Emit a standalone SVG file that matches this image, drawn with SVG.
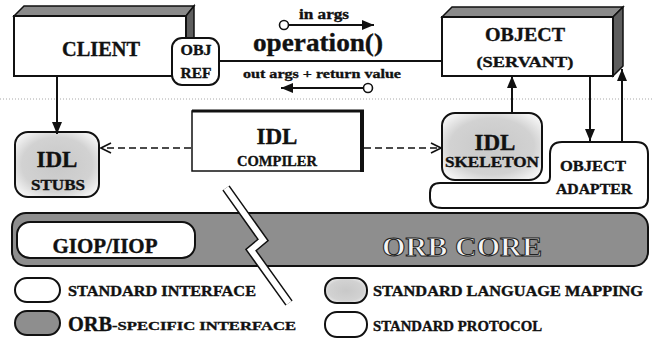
<svg xmlns="http://www.w3.org/2000/svg" width="652" height="339" viewBox="0 0 652 339">
<style>
.t{font-family:"Liberation Serif","DejaVu Serif",serif;font-weight:bold;fill:#111;stroke:#111;stroke-width:0.35;text-anchor:middle}
.s{text-anchor:start}
.ln{stroke:#111;stroke-width:2;fill:none}
.box{fill:#fff;stroke:#111;stroke-width:2}
.stip{fill:url(#sg);stroke:#111;stroke-width:2}
.dark{fill:#8e8e8e;stroke:#111;stroke-width:2}
.bevT{fill:#8a8a8a;stroke:#111;stroke-width:1.5}
.bevR{fill:#5e5e5e;stroke:#111;stroke-width:1.5}
.dash{stroke:#111;stroke-width:1.6;fill:none;stroke-dasharray:7 4}
</style>
<defs>
<marker id="tri" viewBox="0 0 12 10" refX="12" refY="5" markerWidth="12" markerHeight="10" markerUnits="userSpaceOnUse" orient="auto">
<path d="M0,0 L12,5 L0,10 Z" fill="#111"/>
</marker>
<marker id="open" viewBox="0 0 12 12" refX="11" refY="6" markerWidth="12" markerHeight="12" markerUnits="userSpaceOnUse" orient="auto">
<path d="M1,1 L11,6 L1,11" fill="none" stroke="#111" stroke-width="1.6"/>
</marker>
<radialGradient id="sg" cx="50%" cy="50%" r="60%">
<stop offset="0" stop-color="#c8c8c8"/>
<stop offset="0.7" stop-color="#d2d2d2"/>
<stop offset="1" stop-color="#f2f2f2"/>
</radialGradient>
</defs>
<rect width="652" height="339" fill="#fff"/>

<!-- dotted separator -->
<line x1="0" y1="99" x2="652" y2="99" stroke="#a8a8a8" stroke-width="1" stroke-dasharray="1 2"/>

<!-- ORB core band -->
<g id="orb-core">
<rect x="12" y="213" width="636" height="53" rx="14" class="dark"/>
<text x="462" y="256" class="t" font-size="28" textLength="160" lengthAdjust="spacingAndGlyphs" style="fill:#f4f4f4;stroke:#222;stroke-width:1">ORB CORE</text>
</g>
<g id="giop">
<rect x="17" y="222" width="178" height="36" rx="13" class="box"/>
<text x="105" y="253" class="t" font-size="21" textLength="105" lengthAdjust="spacingAndGlyphs">GIOP/IIOP</text>
</g>

<!-- break -->
<g id="break">
<polyline points="226,188 263,240 251,250 289,303" fill="none" stroke="#111" stroke-width="9"/>
<polyline points="226,188 263,240 251,250 289,303" fill="none" stroke="#fff" stroke-width="6"/>
</g>

<!-- Client -->
<g id="client">
<polygon points="14,16 24,6 194,6 186,16" class="bevT"/>
<polygon points="186,16 194,6 194,66 186,76" class="bevR"/>
<rect x="14" y="16" width="172" height="60" class="box" stroke-width="1.5"/>
<text x="101" y="56" class="t" font-size="20" textLength="78" lengthAdjust="spacingAndGlyphs">CLIENT</text>
</g>
<g id="objref">
<rect x="172" y="38" width="47" height="47" rx="10" class="box"/>
<text x="196" y="55" class="t" font-size="14" textLength="31" lengthAdjust="spacingAndGlyphs">OBJ</text>
<text x="196" y="78" class="t" font-size="14" textLength="31" lengthAdjust="spacingAndGlyphs">REF</text>
</g>

<!-- Object -->
<g id="object">
<polygon points="442,17 452,7 623,7 613,17" class="bevT"/>
<polygon points="613,17 623,7 623,66 613,76" class="bevR"/>
<rect x="442" y="17" width="171" height="59" class="box" stroke-width="1.5"/>
<text x="525" y="41" class="t" font-size="19" textLength="80" lengthAdjust="spacingAndGlyphs">OBJECT</text>
<text x="525" y="67" class="t" font-size="15.5" textLength="97" lengthAdjust="spacingAndGlyphs">(SERVANT)</text>
</g>

<!-- operation labels -->
<g id="operation">
<text x="324" y="19" class="t" font-size="14" textLength="50" lengthAdjust="spacingAndGlyphs">in  args</text>
<text x="318" y="51" class="t" font-size="26" textLength="130" lengthAdjust="spacingAndGlyphs">operation()</text>
<text x="322" y="78" class="t" font-size="13.5" textLength="158" lengthAdjust="spacingAndGlyphs">out  args + return  value</text>
</g>

<!-- IDL stubs -->
<g id="idl-stubs">
<rect x="15" y="132" width="84" height="65" rx="13" class="stip"/>
<text x="57" y="167" class="t" font-size="23">IDL</text>
<text x="58" y="190" class="t" font-size="15" textLength="54" lengthAdjust="spacingAndGlyphs">STUBS</text>
</g>

<!-- IDL compiler -->
<g id="idl-compiler">
<rect x="192" y="111" width="170" height="60" fill="#fff" stroke="#111" stroke-width="1.5"/>
<line x1="192" y1="111" x2="364" y2="111" stroke="#111" stroke-width="3"/>
<line x1="362" y1="110" x2="362" y2="172" stroke="#111" stroke-width="4"/>
<text x="277" y="144" class="t" font-size="23">IDL</text>
<text x="277" y="166" class="t" font-size="15.5" textLength="80" lengthAdjust="spacingAndGlyphs">COMPILER</text>
</g>

<!-- IDL skeleton -->
<g id="idl-skeleton">
<rect x="442" y="113" width="100" height="67" rx="13" class="stip"/>
<text x="495" y="150" class="t" font-size="23">IDL</text>
<text x="492" y="167" class="t" font-size="15" textLength="94" lengthAdjust="spacingAndGlyphs">SKELETON</text>
</g>

<!-- Object adapter -->
<g id="object-adapter">
<path d="M562,142 H636 Q648,142 648,154 V198 Q648,208 638,208 H442 Q430,208 430,198 V193 Q430,183 440,183 H544 Q550,183 550,177 V154 Q550,142 562,142 Z" class="box"/>
<text x="593" y="171" class="t" font-size="15" textLength="66" lengthAdjust="spacingAndGlyphs">OBJECT</text>
<text x="594" y="194" class="t" font-size="15" textLength="76" lengthAdjust="spacingAndGlyphs">ADAPTER</text>
</g>

<!-- connectors -->
<g id="connectors">
<line x1="219" y1="61" x2="442" y2="61" class="ln" stroke-width="1.6"/>
<line x1="288" y1="25" x2="374" y2="25" class="ln" stroke-width="1.6" marker-end="url(#tri)"/>
<circle cx="284" cy="25" r="4.5" fill="#fff" stroke="#111" stroke-width="1.6"/>
<line x1="364" y1="88" x2="281" y2="88" class="ln" stroke-width="1.6" marker-end="url(#tri)"/>
<circle cx="368" cy="88" r="4.5" fill="#fff" stroke="#111" stroke-width="1.6"/>
<line x1="57" y1="76" x2="57" y2="134" class="ln" marker-end="url(#tri)"/>
<line x1="512" y1="113" x2="512" y2="76" class="ln" marker-end="url(#tri)"/>
<line x1="590" y1="76" x2="590" y2="141" class="ln" marker-end="url(#tri)"/>
<line x1="622" y1="142" x2="622" y2="69" class="ln" marker-end="url(#tri)"/>
<line x1="191" y1="148" x2="101" y2="148" class="dash" marker-end="url(#open)"/>
<line x1="364" y1="148" x2="441" y2="148" class="dash" marker-end="url(#open)"/>
</g>

<!-- legend -->
<g id="legend">
<rect x="15" y="278" width="45" height="24" rx="12" class="box" stroke-width="1.6"/>
<text x="68" y="296" class="t s" font-size="14" textLength="188" lengthAdjust="spacingAndGlyphs">STANDARD INTERFACE</text>
<rect x="15" y="311" width="45" height="24" rx="12" class="dark" stroke-width="1.6"/>
<text x="68" y="331" class="t s" font-size="20" textLength="44" lengthAdjust="spacingAndGlyphs">ORB</text>
<text x="112" y="330" class="t s" font-size="13" textLength="184" lengthAdjust="spacingAndGlyphs">-SPECIFIC INTERFACE</text>
<rect x="325" y="278" width="42" height="25" rx="12" class="stip" stroke-width="1.6"/>
<text x="373" y="296" class="t s" font-size="14" textLength="270" lengthAdjust="spacingAndGlyphs">STANDARD LANGUAGE MAPPING</text>
<rect x="325" y="312" width="42" height="25" rx="12" class="box" stroke-width="1.6"/>
<text x="373" y="331" class="t s" font-size="14" textLength="169" lengthAdjust="spacingAndGlyphs">STANDARD PROTOCOL</text>
</g>
</svg>
